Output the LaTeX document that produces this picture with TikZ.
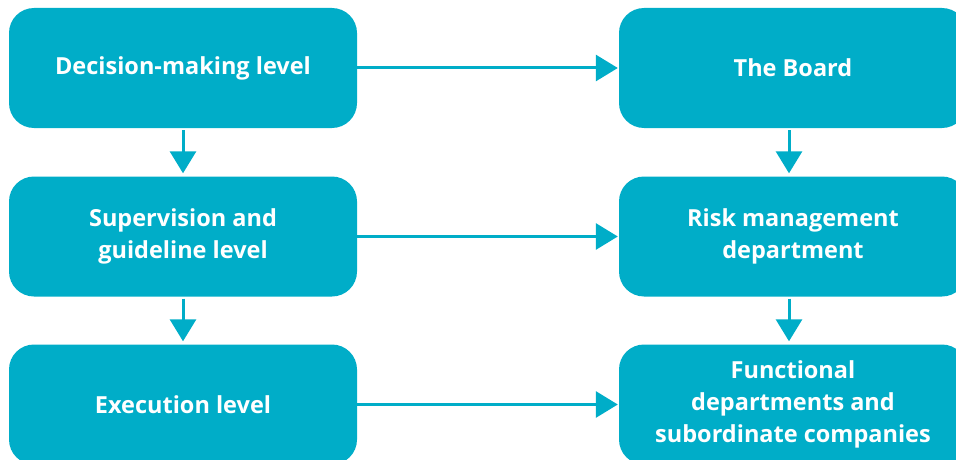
\documentclass[tikz,border=0pt]{standalone}
\usepackage{fontspec}
\setmainfont{Open Sans}
\usetikzlibrary{arrows.meta}
\definecolor{teal1}{HTML}{00ADC8}
\tikzset{
  box/.style={fill=teal1, rounded corners=25pt, text=white, font=\fontsize{23.5pt}{32pt}\selectfont\bfseries, align=center, inner sep=0pt},
  lbox/.style={box, minimum width=348pt, minimum height=120pt},
  rbox/.style={box, minimum width=348pt, minimum height=120pt},
  conn/.style={draw=teal1, line width=3pt, -{Triangle[length=22pt,width=26pt]}, shorten >=1pt}
}
\begin{document}
\begin{tikzpicture}[x=1pt,y=-1pt]
\useasboundingbox (0,0) rectangle (956,460);
\clip (0,0) rectangle (956,460);
\node[lbox] (l1) at (183,68) {\raisebox{-2pt}{Decision-making level}};
\node[lbox] (l2) at (183,236.5) {Supervision and\\guideline level};
\node[lbox] (l3) at (183,404.5) {\raisebox{-2pt}{Execution level}};
\node[rbox] (r1) at (793,68) {\raisebox{-2pt}{The Board}};
\node[rbox] (r2) at (793,236.5) {Risk management\\department};
\node[rbox] (r3) at (793,404.5) {Functional\\departments and\\subordinate companies};
\draw[conn] (l1.east) -- (r1.west);
\draw[conn] (l2.east) -- (r2.west);
\draw[conn] (l3.east) -- (r3.west);
\draw[conn, shorten <=2pt, shorten >=3pt] (l1.south) -- (l2.north);
\draw[conn, shorten <=2pt, shorten >=3pt] (l2.south) -- (l3.north);
\draw[conn, shorten <=2pt, shorten >=3pt] ([xshift=-4pt]r1.south) -- ([xshift=-4pt]r2.north);
\draw[conn, shorten <=2pt, shorten >=3pt] ([xshift=-4pt]r2.south) -- ([xshift=-4pt]r3.north);
\end{tikzpicture}
\end{document}
